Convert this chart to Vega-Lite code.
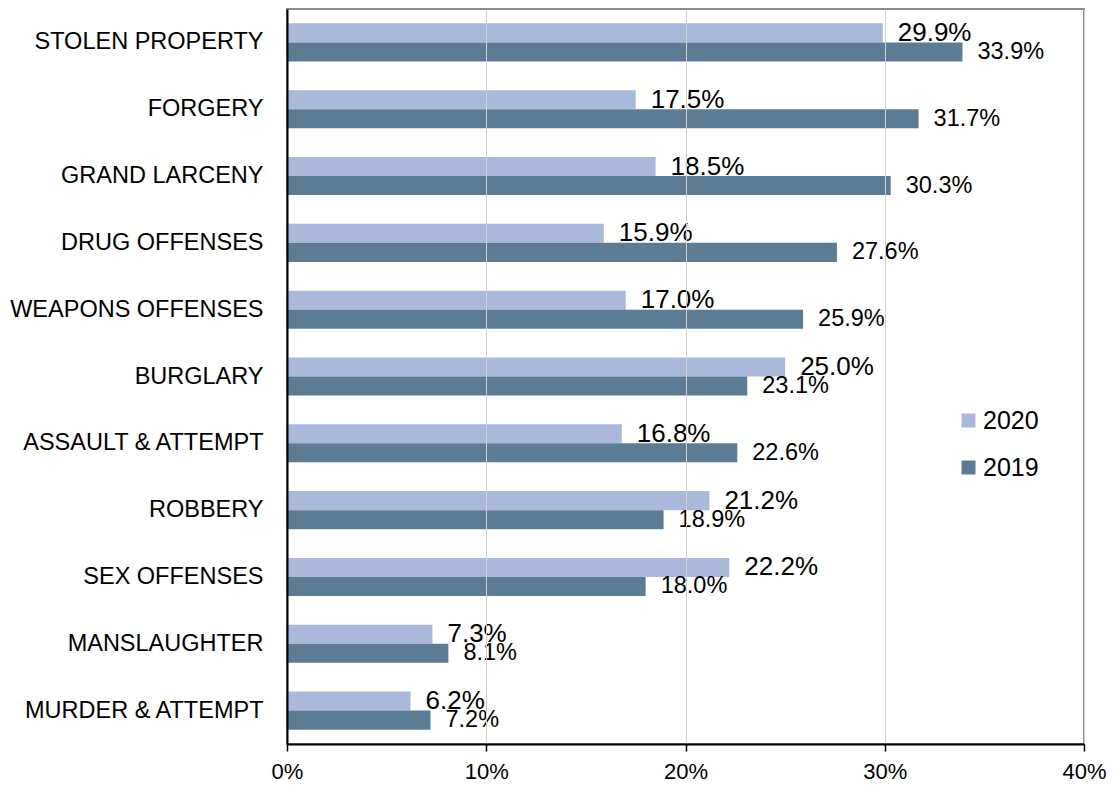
{
  "$schema": "https://vega.github.io/schema/vega-lite/v6.json",
  "width": 797,
  "height": 735,
  "autosize": {"type": "none"},
  "padding": {"left": 287, "top": 9, "right": 30, "bottom": 43},
  "background": "white",
  "config": {
    "font": "Liberation Sans",
    "view": {"stroke": "#8c8c8c", "strokeWidth": 2},
    "axis": {"labelFont": "Liberation Sans", "labelColor": "#000000"}
  },
  "data": {
    "values": [
      {"offense": "STOLEN PROPERTY", "year": "2020", "pct": 0.299},
      {"offense": "STOLEN PROPERTY", "year": "2019", "pct": 0.339},
      {"offense": "FORGERY", "year": "2020", "pct": 0.175},
      {"offense": "FORGERY", "year": "2019", "pct": 0.317},
      {"offense": "GRAND LARCENY", "year": "2020", "pct": 0.185},
      {"offense": "GRAND LARCENY", "year": "2019", "pct": 0.303},
      {"offense": "DRUG OFFENSES", "year": "2020", "pct": 0.159},
      {"offense": "DRUG OFFENSES", "year": "2019", "pct": 0.276},
      {"offense": "WEAPONS OFFENSES", "year": "2020", "pct": 0.170},
      {"offense": "WEAPONS OFFENSES", "year": "2019", "pct": 0.259},
      {"offense": "BURGLARY", "year": "2020", "pct": 0.250},
      {"offense": "BURGLARY", "year": "2019", "pct": 0.231},
      {"offense": "ASSAULT & ATTEMPT", "year": "2020", "pct": 0.168},
      {"offense": "ASSAULT & ATTEMPT", "year": "2019", "pct": 0.226},
      {"offense": "ROBBERY", "year": "2020", "pct": 0.212},
      {"offense": "ROBBERY", "year": "2019", "pct": 0.189},
      {"offense": "SEX OFFENSES", "year": "2020", "pct": 0.222},
      {"offense": "SEX OFFENSES", "year": "2019", "pct": 0.180},
      {"offense": "MANSLAUGHTER", "year": "2020", "pct": 0.073},
      {"offense": "MANSLAUGHTER", "year": "2019", "pct": 0.081},
      {"offense": "MURDER & ATTEMPT", "year": "2020", "pct": 0.062},
      {"offense": "MURDER & ATTEMPT", "year": "2019", "pct": 0.072}
    ]
  },
  "encoding": {
    "y": {
      "field": "offense",
      "type": "nominal",
      "sort": null,
      "scale": {"paddingInner": 0.43, "paddingOuter": 0.215},
      "axis": {
        "title": null,
        "ticks": false,
        "labelFontSize": 23.5,
        "labelLimit": 300,
        "labelPadding": 24,
        "domainColor": "#000000",
        "domainWidth": 2,
        "zindex": 1
      }
    },
    "yOffset": {"field": "year", "type": "nominal", "sort": ["2020", "2019"]},
    "x": {
      "field": "pct",
      "type": "quantitative",
      "scale": {"domain": [0, 0.4], "nice": false},
      "axis": {
        "title": null,
        "format": ".0%",
        "values": [0, 0.1, 0.2, 0.3, 0.4],
        "labelFontSize": 22,
        "labelFlush": false,
        "labelPadding": 10,
        "tickSize": 7,
        "tickColor": "#000000",
        "tickWidth": 1.5,
        "domainColor": "#000000",
        "domainWidth": 2,
        "gridColor": "#d0d0d0",
        "gridWidth": 1,
        "zindex": 1
      }
    }
  },
  "layer": [
    {
      "mark": {"type": "bar"},
      "encoding": {
        "color": {
          "field": "year",
          "type": "nominal",
          "scale": {"domain": ["2020", "2019"], "range": ["#aab9d9", "#5e7b94"]},
          "legend": {
            "title": null,
            "orient": "none",
            "legendX": 669,
            "legendY": 399,
            "symbolType": "square",
            "symbolSize": 196,
            "symbolStrokeWidth": 0,
            "labelFontSize": 25,
            "labelFont": "Liberation Sans",
            "labelColor": "#000000",
            "labelOffset": 2,
            "rowPadding": 21,
            "padding": 0
          }
        }
      }
    },
    {
      "transform": [{"filter": "datum.year == '2020'"}],
      "mark": {"type": "text", "align": "left", "baseline": "middle", "dx": 15, "fontSize": 26, "color": "#000000"},
      "encoding": {"text": {"field": "pct", "type": "quantitative", "format": ".1%"}}
    },
    {
      "transform": [{"filter": "datum.year == '2019'"}],
      "mark": {"type": "text", "align": "left", "baseline": "middle", "dx": 15, "fontSize": 23.5, "color": "#000000"},
      "encoding": {"text": {"field": "pct", "type": "quantitative", "format": ".1%"}}
    }
  ]
}
